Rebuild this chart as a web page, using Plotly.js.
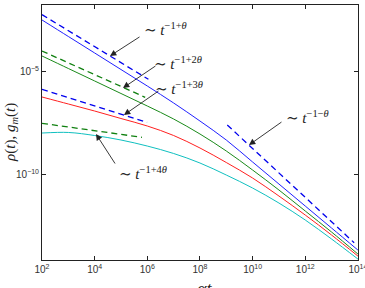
<!DOCTYPE html>
<html>
<head>
<meta charset="utf-8">
<script src="https://cdn.plot.ly/plotly-3.0.1.min.js"></script>
<style>
  html, body { margin: 0; padding: 0; background: #fff; }
  #plot { width: 365px; height: 288px; }
</style>
</head>
<body>
<div id="plot"></div>
<script>
// time grid (one point per decade)
const tGrid = [1e2, 1e3, 1e4, 1e5, 1e6, 1e7, 1e8, 1e9, 1e10, 1e11, 1e12, 1e13, 1e14];

// decay curves
const curveBlue  = [3.40e-3, 5.35e-4, 8.41e-5, 1.32e-5, 2.08e-6, 3.10e-7, 4.11e-8, 4.89e-9, 4.15e-10, 3.52e-11, 2.99e-12, 2.54e-13, 2.16e-14];
const curveGreen = [6.01e-5, 1.48e-5, 3.65e-6, 8.98e-7, 2.21e-7, 5.15e-8, 9.59e-9, 1.43e-9, 1.69e-10, 1.80e-11, 1.71e-12, 1.62e-13, 1.38e-14];
const curveRed   = [6.07e-7, 2.77e-7, 1.26e-7, 5.45e-8, 2.35e-8, 8.11e-9, 2.00e-9, 3.93e-10, 6.90e-11, 9.18e-12, 1.09e-12, 1.16e-13, 1.10e-14];
const curveCyan  = [1.07e-8, 1.14e-8, 8.11e-9, 4.89e-9, 2.49e-9, 1.08e-9, 3.72e-10, 9.66e-11, 2.25e-11, 4.19e-12, 6.24e-13, 7.41e-14, 7.87e-15];

// power-law guides (start and end points)
const guide1T = [1e2, 1.1e6];   const guide1Y = [6.17e-3, 4.41e-6];   // t^(-1+θ)
const guide2T = [1e2, 8.3e5];   const guide2Y = [1.05e-4, 5.86e-7];   // t^(-1+2θ)
const guide3T = [1e2, 9.8e5];   const guide3Y = [1.44e-6, 3.56e-8];   // t^(-1+3θ)
const guide4T = [1e2, 6.3e5];   const guide4Y = [3.18e-8, 6.62e-9];   // t^(-1+4θ)
const guide5T = [1.09e9, 7.2e13]; const guide5Y = [2.63e-8, 4.89e-14]; // t^(-1-θ)

// axis ticks
const xTickVals = [1e2, 1e4, 1e6, 1e8, 1e10, 1e12, 1e14];
const xTickText = ['10<sup>2</sup>', '10<sup>4</sup>', '10<sup>6</sup>', '10<sup>8</sup>', '10<sup>10</sup>', '10<sup>12</sup>', '10<sup>14</sup>'];
const yTickVals = [1e-5, 1e-10];
const yTickText = ['10<sup>−5</sup>', '10<sup>−10</sup>'];

// guide labels
const guideLabels = [
  '∼ <i>t</i><sup>−1+<i>θ</i></sup>',
  '∼ <i>t</i><sup>−1+2<i>θ</i></sup>',
  '∼ <i>t</i><sup>−1+3<i>θ</i></sup>',
  '∼ <i>t</i><sup>−1+4<i>θ</i></sup>',
  '∼ <i>t</i><sup>−1−<i>θ</i></sup>'
];

const solid = (y, color) => ({
  x: tGrid, y: y, type: 'scatter', mode: 'lines',
  line: { color: color, width: 1, shape: 'spline', smoothing: 1 },
  hoverinfo: 'skip'
});
const dashed = (x, y, color) => ({
  x: x, y: y, type: 'scatter', mode: 'lines',
  line: { color: color, width: 1.3, dash: '6px,4px' },
  hoverinfo: 'skip'
});

const data = [
  solid(curveBlue, '#2020ff'),
  solid(curveGreen, '#1a8a1a'),
  solid(curveRed, '#ff2020'),
  solid(curveCyan, '#10c0c0'),
  dashed(guide1T, guide1Y, '#0000ee'),
  dashed(guide2T, guide2Y, '#108010'),
  dashed(guide3T, guide3Y, '#0000ee'),
  dashed(guide4T, guide4Y, '#108010'),
  dashed(guide5T, guide5Y, '#0000ee')
];

const labelFont = { family: 'Liberation Serif, DejaVu Serif, serif', size: 15, color: '#222' };

// arrow: head position (log10 coords) and tail offset in px
const arrow = (lx, ly, ax, ay) => ({
  x: lx, y: ly, xref: 'x', yref: 'y', text: '', showarrow: true,
  ax: ax, ay: ay, arrowhead: 2, arrowsize: 1.4, arrowwidth: 0.9, arrowcolor: '#222'
});
const label = (lx, ly, txt) => ({
  x: lx, y: ly, xref: 'x', yref: 'y', text: txt, showarrow: false,
  xanchor: 'left', yanchor: 'middle', font: labelFont
});

const annotations = [
  arrow(4.583, -4.221, 31, -20),
  arrow(5.076, -5.779, 34, -23),
  arrow(5.114, -7.093, 36, -25),
  arrow(4.051, -8.019, 20, 31),
  arrow(9.862, -8.554, 34, -24),
  label(5.81, -2.93, guideLabels[0]),
  label(6.19, -4.55, guideLabels[1]),
  label(6.22, -5.80, guideLabels[2]),
  label(4.83, -9.90, guideLabels[3]),
  label(11.21, -7.20, guideLabels[4]),
  {
    xref: 'paper', yref: 'paper', x: -0.1, y: 0.5,
    text: '<i>ρ</i>(<i>t</i>), <i>g<sub>m</sub></i>(<i>t</i>)',
    textangle: -90, showarrow: false, xanchor: 'center', yanchor: 'middle',
    font: { family: 'Liberation Serif, DejaVu Serif, serif', size: 15, color: '#222' }
  },
  {
    xref: 'paper', yref: 'paper', x: 0.515, y: -0.066,
    text: '<i>αt</i>', showarrow: false, xanchor: 'center', yanchor: 'top',
    font: { family: 'Liberation Serif, DejaVu Serif, serif', size: 18, color: '#222' }
  }
];

const axisCommon = {
  type: 'log', showgrid: false, zeroline: false,
  showline: true, linecolor: '#222', linewidth: 1, mirror: 'ticks',
  ticks: 'inside', ticklen: 4, tickcolor: '#222', tickwidth: 1,
  ticklabeloverflow: 'allow',
  tickfont: { family: 'Liberation Sans, Arial, sans-serif', size: 10, color: '#333' }
};

const layout = {
  width: 365, height: 288,
  margin: { l: 42, r: 7, t: 5, b: 28 },
  paper_bgcolor: '#fff', plot_bgcolor: '#fff',
  showlegend: false,
  xaxis: Object.assign({}, axisCommon, {
    range: [2, 14.003], tickmode: 'array', tickvals: xTickVals, ticktext: xTickText
  }),
  yaxis: Object.assign({}, axisCommon, {
    range: [-14.15, -1.74], tickmode: 'array', tickvals: yTickVals, ticktext: yTickText
  }),
  annotations: annotations
};

Plotly.newPlot('plot', data, layout, { staticPlot: true, displayModeBar: false });
</script>
</body>
</html>
